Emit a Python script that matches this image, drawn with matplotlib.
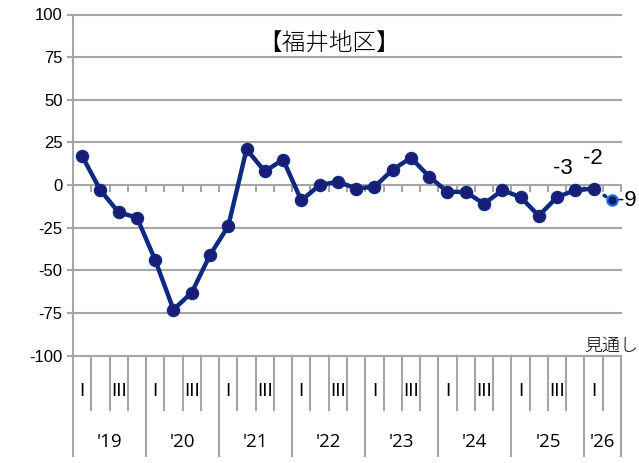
import matplotlib
matplotlib.use("Agg")
import matplotlib.pyplot as plt
import matplotlib.transforms as mtransforms

plt.rcParams['font.family'] = ['Liberation Sans', 'Noto Sans CJK JP', 'DejaVu Sans']

# ---- data ----
years = ["'19", "'20", "'21", "'22", "'23", "'24", "'25", "'26"]
quarters_per_year = [4, 4, 4, 4, 4, 4, 4, 2]
quarter_labels = ["I", "", "III", ""] * 7 + ["I", ""]
values = [17, -3, -16, -19, -44, -73, -63, -41, -24, 21, 8, 15,
          -9, 0, 2, -2, -1, 9, 16, 5, -4, -4, -11, -3,
          -7, -18, -7, -3, -2]
outlook_value = -9
outlook_label = "見通し"
title = "【福井地区】"
yticks = [100, 75, 50, 25, 0, -25, -50, -75, -100]

n_cat = len(quarter_labels)
x_actual = list(range(len(values)))
x_outlook = len(values)

W, H = 639, 463
fig = plt.figure(figsize=(W / 100, H / 100), dpi=100)
ax = fig.add_axes([73 / W, 1 - 355.7 / H, 548 / W, 341.2 / H])
ax.set_xlim(-0.5, n_cat - 0.5)
ax.set_ylim(-100, 100)

grid_c = "#a6a6a6"
for yv in yticks:
    if yv != 0:
        ax.axhline(yv, color=grid_c, lw=1.5, zorder=1, clip_on=False)

# spines
for s in ["top", "right"]:
    ax.spines[s].set_visible(False)
ax.spines["left"].set_color(grid_c)
ax.spines["left"].set_linewidth(1.5)
ax.spines["bottom"].set_position(("data", 0))
ax.spines["bottom"].set_color(grid_c)
ax.spines["bottom"].set_linewidth(1.5)
ax.spines["bottom"].set_zorder(1)

ax.set_yticks(yticks)
ax.set_yticklabels([str(v) for v in yticks], fontsize=12, color="#000000")
ax.tick_params(axis="y", direction="out", length=4.5, width=1.5, color=grid_c, pad=3)

bounds = [i - 0.5 for i in range(n_cat + 1)]
ax.set_xticks(bounds)
ax.set_xticklabels([])
ax.tick_params(axis="x", direction="out", length=5, width=1.5, color=grid_c)

# series
line_c = "#0d2a80"
ax.plot(x_actual, values, color=line_c, lw=3.2, marker="o", markersize=8.5,
        markerfacecolor="#1c1c78", markeredgecolor=line_c, markeredgewidth=1.2,
        zorder=3, clip_on=False)
ax.plot([x_actual[-1], x_outlook], [values[-1], outlook_value], color=line_c,
        lw=2.5, linestyle=(0, (0.6, 3)), zorder=2, dash_capstyle="round")
ax.plot([x_outlook], [outlook_value], marker="o", markersize=7.5,
        markerfacecolor="#0b1f5e", markeredgecolor="#1a6cff",
        markeredgewidth=1.5, zorder=4, clip_on=False)

# data labels
ax.annotate(str(values[-2]), (x_actual[-2], values[-2]), xytext=(-9, 15.5),
            textcoords="offset points", ha="center", va="center", fontsize=16)
ax.annotate(str(values[-1]), (x_actual[-1], values[-1]), xytext=(-0.5, 21.5),
            textcoords="offset points", ha="center", va="center", fontsize=16)
ax.annotate(str(outlook_value), (x_outlook, outlook_value), xytext=(4, 0),
            textcoords="offset points", ha="left", va="center", fontsize=16)

# title
ax.text(0.468, 0.915, title, transform=ax.transAxes, ha="center", va="center",
        fontsize=17, family=["Noto Sans CJK JP"], weight="light")

# outlook label above axis
ax.text(x_outlook - 1.5, -94, outlook_label, ha="left", va="center",
        fontsize=13, family=["Noto Sans CJK JP"], weight="light", clip_on=False)

# multi-level category axis
tr = mtransforms.blended_transform_factory(ax.transData, ax.transAxes)
q_bottom = -0.159
y_bottom = -0.294
year_bounds = [-0.5]
for q in quarters_per_year:
    year_bounds.append(year_bounds[-1] + q)
for b in bounds:
    if b in year_bounds:
        ax.plot([b, b], [0, y_bottom], transform=tr, color=grid_c, lw=1.5,
                clip_on=False, zorder=1)
    else:
        ax.plot([b, b], [0, q_bottom], transform=tr, color=grid_c, lw=1.5,
                clip_on=False, zorder=1)
for i, lab in enumerate(quarter_labels):
    if lab:
        ax.text(i, -0.103, lab, transform=tr, ha="center", va="center",
                fontsize=13, family=["DejaVu Sans"])
for k, yl in enumerate(years):
    c = (year_bounds[k] + year_bounds[k + 1]) / 2
    ax.text(c, -0.253, yl, transform=tr, ha="center", va="center",
            fontsize=13.5, family=["Open Sans"])

fig.savefig("out.png", dpi=100)
